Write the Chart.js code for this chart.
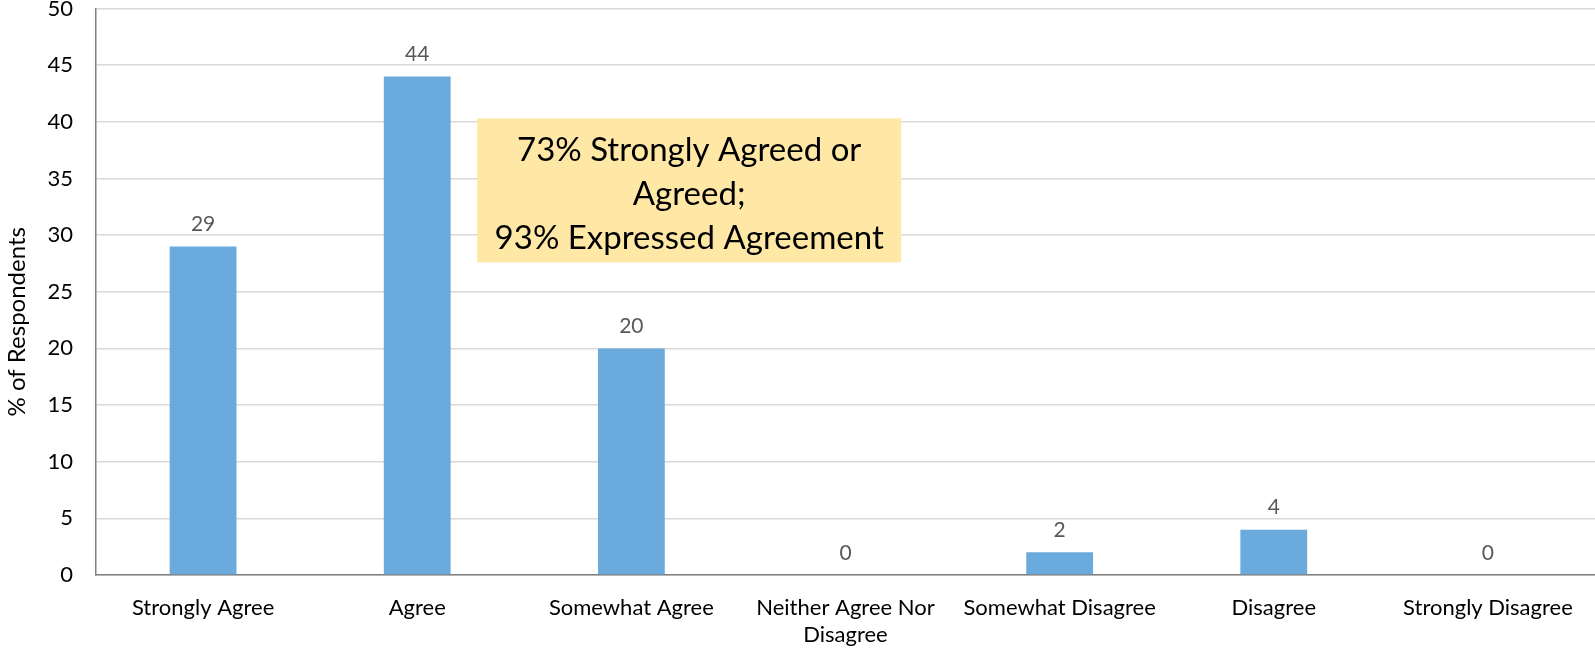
<!DOCTYPE html>
<html>
<head>
<meta charset="utf-8">
<script src="https://cdn.jsdelivr.net/npm/chart.js@4/dist/chart.umd.min.js"></script>
<style>
  html, body { margin: 0; padding: 0; background: #fff; }
  #wrap { width: 1595px; height: 648px; }
</style>
</head>
<body>
<div id="wrap"><canvas id="chart"></canvas></div>
<script>
const categories = [
  "Strongly Agree",
  "Agree",
  "Somewhat Agree",
  ["Neither Agree Nor", "Disagree"],
  "Somewhat Disagree",
  "Disagree",
  "Strongly Disagree"
];
const respondents = [29, 44, 20, 0, 2, 4, 0];
const yTicks = [0, 5, 10, 15, 20, 25, 30, 35, 40, 45, 50];
const yTitle = "% of Respondents";
const noteLines = ["73% Strongly Agreed or", "Agreed;", "93% Expressed Agreement"];

const FONT = "Lato, 'Open Sans', sans-serif";

// value labels above each bar
const barLabels = {
  id: "barLabels",
  afterDatasetsDraw(chart) {
    const ctx = chart.ctx;
    const meta = chart.getDatasetMeta(0);
    ctx.save();
    ctx.font = "21px " + FONT;
    ctx.fillStyle = "#595959";
    ctx.textAlign = "center";
    ctx.textBaseline = "middle";
    meta.data.forEach((bar, i) => {
      ctx.fillText(String(respondents[i]), bar.x, bar.y - 22);
    });
    ctx.restore();
  }
};

// yellow note box, placed in data space
const noteBox = {
  id: "noteBox",
  afterDatasetsDraw(chart) {
    const ctx = chart.ctx;
    const cx = chart.scales.x.getPixelForValue(2.27);
    const cy = chart.scales.y.getPixelForValue(33.95);
    const w = 424, h = 144;
    ctx.save();
    ctx.fillStyle = "#ffe8a6";
    ctx.fillRect(cx - w / 2, cy - h / 2, w, h);
    ctx.font = "33px " + FONT;
    ctx.fillStyle = "#000";
    ctx.textAlign = "center";
    ctx.textBaseline = "middle";
    noteLines.forEach((t, i) => {
      ctx.fillText(t, cx, cy + 4 + (i - 1) * 44);
    });
    ctx.restore();
  }
};

// rotated y axis title, sits a bit below the middle like the original
const axisTitle = {
  id: "axisTitle",
  afterDraw(chart) {
    const ctx = chart.ctx;
    const area = chart.chartArea;
    ctx.save();
    ctx.translate(17.5, (area.top + area.bottom) / 2 + 30);
    ctx.rotate(-Math.PI / 2);
    ctx.font = "24px " + FONT;
    ctx.fillStyle = "#000";
    ctx.textAlign = "center";
    ctx.textBaseline = "middle";
    ctx.fillText(yTitle, 0, 0);
    ctx.restore();
  }
};

new Chart(document.getElementById("chart"), {
  type: "bar",
  data: {
    labels: categories,
    datasets: [{
      data: respondents,
      backgroundColor: "#6aaadc",
      borderWidth: 0,
      categoryPercentage: 0.8,
      barPercentage: 0.39
    }]
  },
  options: {
    responsive: true,
    maintainAspectRatio: false,
    animation: false,
    layout: { padding: 0 },
    plugins: {
      legend: { display: false },
      tooltip: { enabled: false }
    },
    scales: {
      x: {
        grid: { display: false, drawTicks: false },
        border: { color: "#808080", width: 1.5 },
        ticks: {
          color: "#000",
          font: { family: FONT, size: 22, lineHeight: 1.25 },
          padding: 19,
          maxRotation: 0,
          autoSkip: false
        },
        afterFit(scale) {
          scale.height = 73;
          scale.paddingLeft = 0;
          scale.paddingRight = 0;
        }
      },
      y: {
        min: 0,
        max: 50,
        afterBuildTicks(scale) { scale.ticks = yTicks.map(v => ({ value: v })); },
        grid: { color: "#d9d9d9", lineWidth: 1.5, drawTicks: false },
        border: { color: "#808080", width: 1.5 },
        ticks: {
          color: "#000",
          font: { family: FONT, size: 22, lineHeight: 1 },
          padding: 23
        },
        afterFit(scale) {
          scale.width = 96;
          scale.paddingTop = 8.5;
          scale.paddingBottom = 0;
        }
      }
    }
  },
  plugins: [barLabels, noteBox, axisTitle]
});
</script>
</body>
</html>
